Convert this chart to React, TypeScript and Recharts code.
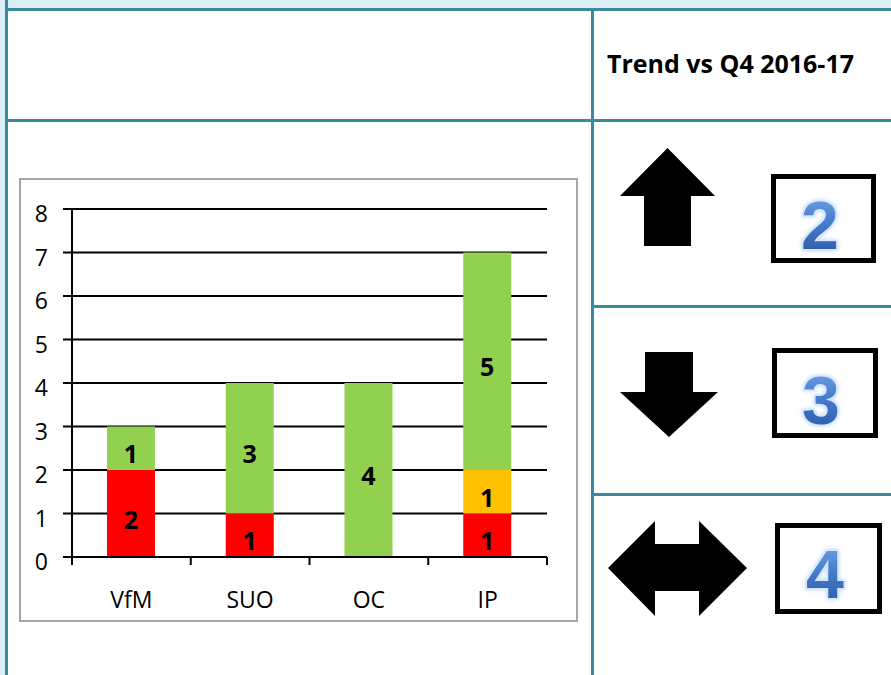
import React from 'react';
import { BarChart, Bar, XAxis, YAxis, CartesianGrid, LabelList } from 'recharts';

const categories = ['VfM', 'SUO', 'OC', 'IP'];
const redValues = [2, 1, 0, 1];
const amberValues = [0, 0, 0, 1];
const greenValues = [1, 3, 4, 5];
const yTicks = [0, 1, 2, 3, 4, 5, 6, 7, 8];
const headerText = 'Trend vs Q4 2016-17';
const trendUp = 2;
const trendDown = 3;
const trendSame = 4;

const data = categories.map((c, i) => ({
  name: c,
  red: redValues[i],
  amber: amberValues[i],
  green: greenValues[i],
}));

const TEAL = '#3a8a9e';
const LIGHT = '#daeef3';
const FONT = '"Open Sans", "DejaVu Sans", sans-serif';

const XTick = (props: any) => {
  const { x, y, payload, index } = props;
  const off = payload && typeof payload.offset === 'number' ? payload.offset : 0;
  return (
    <g>
      <line x1={x - off} y1={y} x2={x - off} y2={y + 8} stroke="#000" strokeWidth={2} />
      {index === categories.length - 1 && (
        <line x1={x + off} y1={y} x2={x + off} y2={y + 8} stroke="#000" strokeWidth={2} />
      )}
      <text x={x} y={y + 51} textAnchor="middle" fontFamily={FONT} fontSize={23} fill="#000">
        {payload.value}
      </text>
    </g>
  );
};

const YTick = (props: any) => {
  const { x, y, payload } = props;
  return (
    <text x={x} y={y + 13} textAnchor="end" fontFamily={FONT} fontSize={23} fill="#000">
      {payload.value}
    </text>
  );
};

const BarLabel = (props: any) => {
  const { x, y, width, height, value } = props;
  if (!value) return null;
  return (
    <text
      x={x + width / 2}
      y={y + height / 2 + 15}
      textAnchor="middle"
      fontFamily={FONT}
      fontWeight={700}
      fontSize={25}
      fill="#000"
    >
      {value}
    </text>
  );
};

const hLine = (top: number, left: number, width: number, h = 3) => (
  <div style={{ position: 'absolute', left, top, width, height: h, background: TEAL }} />
);
const vLine = (left: number, top: number, height: number, w = 3) => (
  <div style={{ position: 'absolute', left, top, width: w, height, background: TEAL }} />
);

const NumberBox = ({ left, top, w, h, value, cx, baseline }: any) => (
  <>
    <div
      style={{
        position: 'absolute',
        left,
        top,
        width: w,
        height: h,
        border: '5px solid #000',
        boxSizing: 'border-box',
        background: '#fff',
      }}
    />
    <svg style={{ position: 'absolute', left: 0, top: 0 }} width={891} height={675}>
      <text
        x={cx}
        y={baseline}
        textAnchor="middle"
        fontFamily='"Liberation Sans", Arial, sans-serif'
        fontWeight={700}
        fontSize={68}
        fill="url(#digitGrad)"
        stroke="#d6e8fb"
        strokeWidth={3}
        paintOrder="stroke"
        filter="url(#glow)"
      >
        {value}
      </text>
    </svg>
  </>
);

export default function App() {
  return (
    <div
      style={{
        position: 'absolute',
        left: 0,
        top: 0,
        width: 891,
        height: 675,
        overflow: 'hidden',
        background: '#fff',
      }}
    >
      <svg style={{ position: 'absolute', left: 0, top: 0, width: 0, height: 0 }}>
        <defs>
          <linearGradient id="digitGrad" x1="0" y1="0" x2="0" y2="1">
            <stop offset="0%" stopColor="#78acee" />
            <stop offset="50%" stopColor="#4479c9" />
            <stop offset="100%" stopColor="#27559f" />
          </linearGradient>
          <filter id="glow" x="-30%" y="-30%" width="160%" height="160%">
            <feGaussianBlur in="SourceAlpha" stdDeviation="2" result="blur" />
            <feFlood floodColor="#b9d6f7" result="c" />
            <feComposite in="c" in2="blur" operator="in" result="g" />
            <feMerge>
              <feMergeNode in="g" />
              <feMergeNode in="SourceGraphic" />
            </feMerge>
          </filter>
        </defs>
      </svg>

      {/* top light band and left strip */}
      <div style={{ position: 'absolute', left: 0, top: 0, width: 891, height: 8, background: LIGHT }} />
      <div style={{ position: 'absolute', left: 0, top: 0, width: 5, height: 675, background: LIGHT }} />
      {hLine(8, 5, 886)}
      {vLine(5, 0, 675)}
      {hLine(119, 5, 886)}
      {vLine(591, 8, 667)}
      {hLine(305, 591, 300)}
      {hLine(493, 591, 300)}

      <div
        style={{
          position: 'absolute',
          left: 607,
          top: 46,
          fontFamily: FONT,
          fontWeight: 700,
          fontSize: 25,
          lineHeight: '34px',
          whiteSpace: 'nowrap',
          color: '#000',
        }}
      >
        {headerText}
      </div>

      {/* chart frame */}
      <div
        style={{
          position: 'absolute',
          left: 19,
          top: 178,
          width: 559,
          height: 444,
          border: '2px solid #a6a6a6',
          boxSizing: 'border-box',
        }}
      />
      <div style={{ position: 'absolute', left: 20, top: 179 }}>
        <BarChart
          width={557}
          height={442}
          data={data}
          margin={{ top: 30, right: 30, left: 0, bottom: 24 }}
          barSize={48}
        >
          <CartesianGrid vertical={false} stroke="#000" strokeWidth={2} strokeOpacity={1} />
          <XAxis
            dataKey="name"
            height={40}
            tickLine={false}
            tickSize={0}
            tickMargin={0}
            axisLine={{ stroke: '#000', strokeWidth: 2 }}
            tick={<XTick />}
            interval={0}
          />
          <YAxis
            width={52}
            domain={[0, 8]}
            ticks={yTicks}
            interval={0}
            tickSize={9}
            tickMargin={15}
            tickLine={{ stroke: '#000', strokeWidth: 2 }}
            axisLine={{ stroke: '#000', strokeWidth: 2 }}
            tick={<YTick />}
          />
          <Bar dataKey="red" stackId="a" fill="#ff0000" isAnimationActive={false}>
            <LabelList dataKey="red" content={<BarLabel />} />
          </Bar>
          <Bar dataKey="amber" stackId="a" fill="#ffc000" isAnimationActive={false}>
            <LabelList dataKey="amber" content={<BarLabel />} />
          </Bar>
          <Bar dataKey="green" stackId="a" fill="#92d050" isAnimationActive={false}>
            <LabelList dataKey="green" content={<BarLabel />} />
          </Bar>
        </BarChart>
      </div>

      {/* arrows */}
      <svg style={{ position: 'absolute', left: 0, top: 0 }} width={891} height={675}>
        <polygon points="667.5,148 715,196 691,196 691,246 644,246 644,196 620,196" fill="#000" />
        <polygon points="645,352 693,352 693,392 718,392 669,437 620,392 645,392" fill="#000" />
        <polygon
          points="608,568 655,521 655,544 699,544 699,521 747,568 699,616 699,591 655,591 655,616"
          fill="#000"
        />
      </svg>

      <NumberBox left={771} top={174} w={105} h={89} value={trendUp} cx={820} baseline={249} />
      <NumberBox left={772} top={348} w={106} h={90} value={trendDown} cx={821} baseline={424} />
      <NumberBox left={775} top={523} w={107} h={91} value={trendSame} cx={825} baseline={598} />
    </div>
  );
}
